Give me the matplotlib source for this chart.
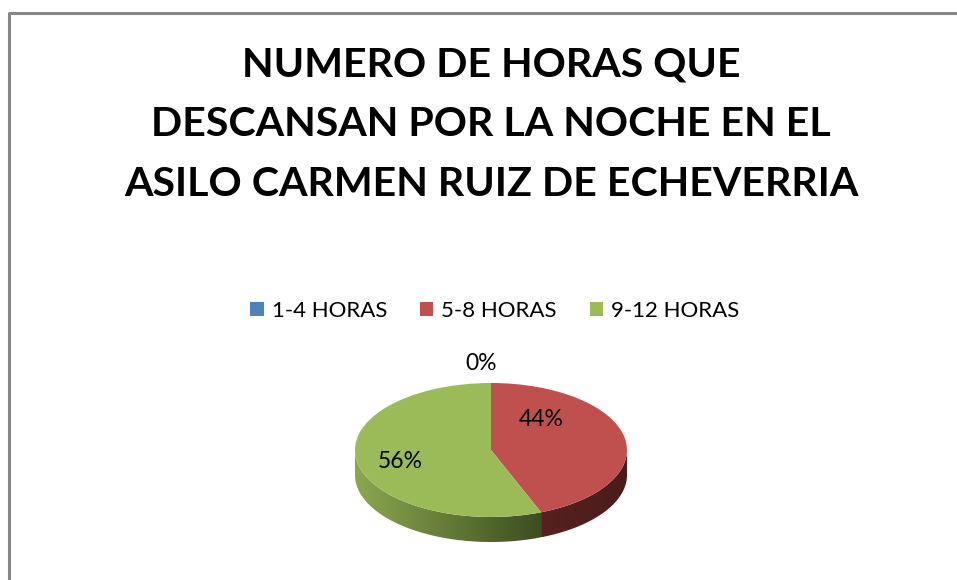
import matplotlib
matplotlib.use("Agg")
import matplotlib.pyplot as plt
import numpy as np
from matplotlib.patches import Patch, Polygon
from matplotlib.colors import to_rgb

categories = ["1-4 HORAS", "5-8 HORAS", "9-12 HORAS"]
values = [0, 44, 56]
colors = ["#4F81BD", "#C0504D", "#9BBB59"]
title_lines = ["NUMERO DE HORAS QUE", "DESCANSAN POR LA NOCHE EN EL", "ASILO CARMEN RUIZ DE ECHEVERRIA"]

W, H = 957, 580
fig = plt.figure(figsize=(W / 100, H / 100), dpi=100)
fig.patch.set_facecolor("white")

FONT = "Lato"

# border (chart area frame, cropped at right/bottom)
bg = fig.add_axes([0, 0, 1, 1])
bg.set_xlim(0, W)
bg.set_ylim(H, 0)
bg.axis("off")
bg.plot([9, 9, W + 5], [H + 5, 13, 13], color="#878787", lw=2.2, solid_capstyle="butt")

# title
for i, line in enumerate(title_lines):
    bg.text(491, 65 + 60 * i, line, ha="center", va="center", fontsize=29.6,
            fontweight="bold", family=FONT, color="black")

# pie axes: x 355..627 px -> [-1,1]; 1 unit y = 67 px, center y=450 px
cx, cy, a, b = 491, 450, 136, 67
top_px, bot_px = 370, 556
ax = fig.add_axes([(cx - a) / W, (H - bot_px) / H, 2 * a / W, (bot_px - top_px) / H])
ylims = (-(bot_px - cy) / b, (cy - top_px) / b)

depth = 25 / b
total = sum(values)

# angles (math degrees) of slices, clockwise from 90
starts = []
ang = 90.0
for v in values:
    sweep = 360.0 * v / total
    starts.append((ang, ang - sweep))
    ang -= sweep

side_cols = {1: ("#582120", "#4a1c1b"), 2: ("#8ba84f", "#3d4c20")}
for idx, (t0, t1) in enumerate(starts):
    if values[idx] == 0:
        continue
    lo, hi = max(min(t0, t1), -180), min(max(t0, t1), 0)
    if hi <= lo:
        continue
    tt = np.radians(np.linspace(lo, hi, 200))
    xs = np.concatenate([np.cos(tt), np.cos(tt[::-1])])
    ys = np.concatenate([np.sin(tt), np.sin(tt[::-1]) - depth])
    poly = Polygon(np.column_stack([xs, ys]), closed=True, facecolor="none",
                   edgecolor="none", clip_on=False)
    ax.add_patch(poly)
    c0, c1 = np.array(to_rgb(side_cols[idx][0])), np.array(to_rgb(side_cols[idx][1]))
    xmin, xmax = xs.min(), xs.max()
    fr = np.linspace(0, 1, 256)
    img = (c0[None, :] + (c1 - c0)[None, :] * fr[:, None])[None, :, :]
    im = ax.imshow(img, extent=(xmin, xmax, ys.min(), ys.max()), aspect="auto",
                   interpolation="bilinear", zorder=0.5)
    im.set_clip_path(poly)

wedges, _ = ax.pie(values, colors=colors, startangle=90, counterclock=False,
                   radius=1, wedgeprops=dict(linewidth=0, antialiased=True))
for w in wedges:
    w.set_clip_on(False)
    w.set_zorder(2)
ax.set_aspect("auto")
ax.set_xlim(-1, 1)
ax.set_ylim(*ylims)
ax.axis("off")

pcts = [f"{round(100 * v / total)}%" for v in values]
label_px = [(481, 363), (541, 420), (400, 461)]
for txt, (px, py) in zip(pcts, label_px):
    ax.text((px - cx) / a, (cy - py) / b, txt, ha="center", va="center",
            fontsize=16.5, family=FONT, color="black", zorder=3)

handles = [Patch(facecolor=c, edgecolor="none") for c in colors]
leg = fig.legend(handles, categories, loc="center", bbox_to_anchor=(495 / W, 1 - 311 / H),
                 ncol=3, frameon=False, prop=dict(family=FONT, size=16),
                 handlelength=0.6, handleheight=0.6, handletextpad=0.36, columnspacing=1.49)

fig.savefig("out.png", dpi=100, facecolor="white")
